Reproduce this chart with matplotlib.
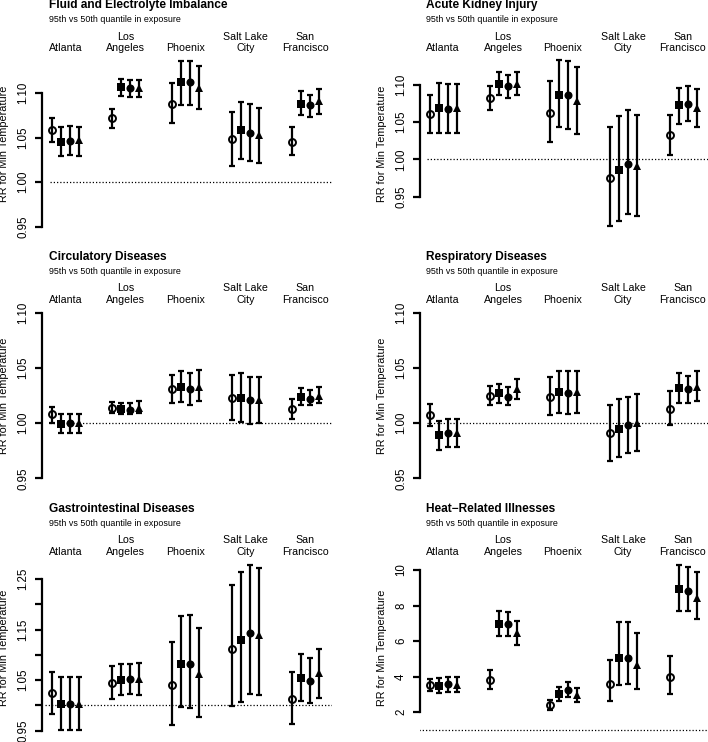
import numpy as np
import matplotlib
matplotlib.use("Agg")
import matplotlib.pyplot as plt

plt.rcParams["font.family"] = ["Liberation Sans", "DejaVu Sans"]

# ---------------------------------------------------------------------------
# Data (cities x models: open circle, square, filled circle, triangle)
# ---------------------------------------------------------------------------

cities = ["Atlanta", "Los\nAngeles", "Phoenix", "Salt Lake\nCity", "San\nFrancisco"]
subtitle = "95th vs 50th quantile in exposure"
ylabel = "RR for Min Temperature"

titles = [
    "Fluid and Electrolyte Imbalance",
    "Acute Kidney Injury",
    "Circulatory Diseases",
    "Respiratory Diseases",
    "Gastrointestinal Diseases",
    "Heat\u2212Related Illnesses",
]

fluid_est = [[1.058, 1.045, 1.046, 1.047], [1.072, 1.107, 1.106, 1.106], [1.088, 1.112, 1.112, 1.106],
             [1.048, 1.058, 1.055, 1.053], [1.045, 1.088, 1.087, 1.091]]
fluid_lo = [[1.045, 1.029, 1.030, 1.029], [1.061, 1.097, 1.095, 1.095], [1.066, 1.087, 1.087, 1.082],
            [1.018, 1.026, 1.024, 1.021], [1.030, 1.075, 1.073, 1.076]]
fluid_hi = [[1.072, 1.062, 1.063, 1.062], [1.082, 1.116, 1.115, 1.115], [1.111, 1.136, 1.136, 1.130],
            [1.079, 1.090, 1.088, 1.083], [1.062, 1.102, 1.098, 1.104]]

aki_est = [[1.061, 1.069, 1.068, 1.069], [1.082, 1.101, 1.098, 1.102], [1.063, 1.087, 1.086, 1.079],
           [0.975, 0.986, 0.994, 0.991], [1.033, 1.073, 1.074, 1.069]]
aki_lo = [[1.036, 1.036, 1.036, 1.036], [1.066, 1.086, 1.083, 1.086], [1.023, 1.044, 1.041, 1.034],
          [0.910, 0.918, 0.927, 0.924], [1.006, 1.048, 1.051, 1.043]]
aki_hi = [[1.086, 1.103, 1.102, 1.101], [1.099, 1.117, 1.114, 1.118], [1.105, 1.133, 1.132, 1.124],
          [1.044, 1.059, 1.067, 1.060], [1.060, 1.096, 1.098, 1.094]]

circ_est = [[1.008, 0.999, 1.000, 1.000], [1.014, 1.013, 1.012, 1.014], [1.031, 1.033, 1.031, 1.033],
            [1.023, 1.023, 1.021, 1.021], [1.013, 1.024, 1.022, 1.025]]
circ_lo = [[1.000, 0.991, 0.991, 0.991], [1.009, 1.008, 1.008, 1.009], [1.018, 1.019, 1.016, 1.020],
           [1.003, 1.001, 0.999, 1.000], [1.004, 1.016, 1.016, 1.018]]
circ_hi = [[1.015, 1.008, 1.008, 1.008], [1.019, 1.018, 1.018, 1.020], [1.044, 1.047, 1.045, 1.048],
           [1.044, 1.045, 1.042, 1.042], [1.022, 1.032, 1.030, 1.033]]

resp_est = [[1.007, 0.989, 0.991, 0.991], [1.025, 1.027, 1.024, 1.031], [1.024, 1.028, 1.027, 1.028],
            [0.991, 0.995, 0.998, 1.000], [1.013, 1.032, 1.031, 1.033]]
resp_lo = [[0.997, 0.976, 0.978, 0.978], [1.016, 1.018, 1.016, 1.022], [1.007, 1.009, 1.008, 1.009],
           [0.966, 0.969, 0.973, 0.975], [0.998, 1.018, 1.018, 1.020]]
resp_hi = [[1.017, 1.002, 1.004, 1.004], [1.034, 1.035, 1.033, 1.040], [1.042, 1.047, 1.047, 1.047],
           [1.016, 1.022, 1.024, 1.026], [1.029, 1.045, 1.043, 1.047]]

gi_est = [[1.024, 1.002, 1.002, 1.003], [1.044, 1.051, 1.052, 1.052], [1.040, 1.082, 1.082, 1.063],
          [1.112, 1.129, 1.143, 1.140], [1.013, 1.054, 1.048, 1.064]]
gi_lo = [[0.984, 0.951, 0.951, 0.951], [1.013, 1.021, 1.022, 1.020], [0.962, 0.997, 0.995, 0.978],
         [0.999, 1.007, 1.022, 1.020], [0.963, 1.008, 1.005, 1.015]]
gi_hi = [[1.066, 1.056, 1.056, 1.056], [1.077, 1.081, 1.081, 1.083], [1.125, 1.177, 1.178, 1.154],
         [1.238, 1.264, 1.277, 1.272], [1.066, 1.101, 1.093, 1.111]]

heat_est = [[3.50, 3.48, 3.56, 3.54], [3.80, 6.98, 6.94, 6.47], [2.38, 3.00, 3.26, 2.94],
            [3.60, 5.04, 5.04, 4.67], [3.97, 8.91, 8.84, 8.44]]
heat_lo = [[3.18, 3.09, 3.13, 3.15], [3.30, 6.30, 6.26, 5.77], [2.09, 2.64, 2.86, 2.54],
           [2.62, 3.54, 3.58, 3.30], [3.03, 7.67, 7.67, 7.26]]
heat_hi = [[3.88, 3.93, 3.99, 3.99], [4.38, 7.69, 7.65, 7.13], [2.68, 3.41, 3.71, 3.37],
           [4.93, 7.09, 7.09, 6.47], [5.15, 10.30, 10.15, 9.87]]

std_ticks = [0.95, 1.00, 1.05, 1.10]
std_labels = ["0.95", "1.00", "1.05", "1.10"]
gi_ticks = [0.95, 1.00, 1.05, 1.10, 1.15, 1.20, 1.25]
gi_labels = ["0.95", "", "1.05", "", "1.15", "", "1.25"]
heat_ticks = [2, 4, 6, 8, 10]
heat_labels = ["2", "4", "6", "8", "10"]

# ---------------------------------------------------------------------------
# Layout (pixels)
# ---------------------------------------------------------------------------

FIG_W, FIG_H, DPI = 708, 742, 100
COL_AXIS = [42, 419.5]          # x of the y axis line
ROW_BASE = [0, 251.7, 503.4]
PLOT_W = 290
FIRST_GROUP = 23.5              # from axis line to first group centre
GROUP_STEP = 60
OFFSETS = np.array([-0.225, -0.075, 0.075, 0.225])

# (col, row, tick a, px a, tick b, px b, axes top, axes bottom, dotted start px)
layout = [
    (0, 0, 1.10, 93.0, 0.95, 226.7, 56, 236, 50),
    (1, 0, 1.10, 85.0, 0.95, 196.7, 56, 236, 427),
    (0, 1, 1.10, 312.7, 0.95, 478.3, 306, 488, 50),
    (1, 1, 1.10, 312.7, 0.95, 478.3, 306, 488, 427),
    (0, 2, 1.25, 579.0, 0.95, 730.7, 558, 742, 45),
    (1, 2, 10.0, 570.0, 2.0, 712.0, 558, 742, 419),
]

panels = [
    (fluid_est, fluid_lo, fluid_hi, std_ticks, std_labels),
    (aki_est, aki_lo, aki_hi, std_ticks, std_labels),
    (circ_est, circ_lo, circ_hi, std_ticks, std_labels),
    (resp_est, resp_lo, resp_hi, std_ticks, std_labels),
    (gi_est, gi_lo, gi_hi, gi_ticks, gi_labels),
    (heat_est, heat_lo, heat_hi, heat_ticks, heat_labels),
]

markers = [
    dict(marker="o", ms=5.0, mfc="none", mec="black", mew=1.4),
    dict(marker="s", ms=5.2, mfc="black", mec="black", mew=0),
    dict(marker="o", ms=5.8, mfc="black", mec="black", mew=0),
    dict(marker="^", ms=6.2, mfc="black", mec="black", mew=0),
]


def fx(x):
    return x / FIG_W


def fy(y):
    return 1 - y / FIG_H


fig = plt.figure(figsize=(FIG_W / DPI, FIG_H / DPI), dpi=DPI)

xlim = (1 - FIRST_GROUP / GROUP_STEP, 1 + (PLOT_W - FIRST_GROUP) / GROUP_STEP)

for title, (est, lo, hi, ticks, labels), lay in zip(titles, panels, layout):
    col, row, va_, pa, vb, pb, top, bottom, dot_px = lay
    axis_px = COL_AXIS[col]
    base = ROW_BASE[row]
    scale = (pb - pa) / (va_ - vb)
    ylim = (va_ - (bottom - pa) / scale, va_ + (pa - top) / scale)

    ax = fig.add_axes([fx(axis_px), fy(bottom), PLOT_W / FIG_W, (bottom - top) / FIG_H])
    ax.set_xlim(*xlim)
    ax.set_ylim(*ylim)
    ax.patch.set_alpha(0)

    est = np.array(est)
    lo = np.array(lo)
    hi = np.array(hi)
    groups = np.arange(1, len(cities) + 1)

    x0 = 1 + (dot_px - axis_px - FIRST_GROUP) / GROUP_STEP
    ax.hlines(1, x0, xlim[1], colors="black", linewidth=0.9, linestyles=(0, (1, 1.6)))

    for m in range(4):
        xs = groups + OFFSETS[m]
        ax.errorbar(xs, est[:, m], yerr=[est[:, m] - lo[:, m], hi[:, m] - est[:, m]],
                    fmt="none", ecolor="black", elinewidth=1.6, capsize=1.9, capthick=1.6)
        ax.plot(xs, est[:, m], linestyle="none", **markers[m])

    for s in ["top", "right", "bottom"]:
        ax.spines[s].set_visible(False)
    ax.spines["left"].set_linewidth(1.6)
    ax.spines["left"].set_bounds(ticks[0], ticks[-1])
    ax.set_xticks([])
    ax.set_yticks(ticks)
    ax.set_yticklabels(labels)
    ax.tick_params(axis="y", length=5, width=1.6, pad=4, labelsize=8.3, labelrotation=90)
    for lbl in ax.get_yticklabels():
        lbl.set_va("center")

    # texts around the panel
    fig.text(fx(axis_px + 7), fy(base + 5.3), title, fontsize=8.6, fontweight="bold",
             ha="left", va="center")
    fig.text(fx(axis_px + 7), fy(base + 20), subtitle, fontsize=6.4, ha="left", va="center")
    fig.text(fx(axis_px - 37.5), fy(base + 144), ylabel, fontsize=7.8, rotation=90,
             ha="center", va="center")
    for g, name in enumerate(cities):
        cx = axis_px + FIRST_GROUP + g * GROUP_STEP
        parts = name.split("\n")
        fig.text(fx(cx), fy(base + 48.3), parts[-1], fontsize=7.7, ha="center", va="center")
        if len(parts) > 1:
            fig.text(fx(cx), fy(base + 36.6), parts[0], fontsize=7.7, ha="center", va="center")

fig.savefig("out.png", dpi=DPI)
